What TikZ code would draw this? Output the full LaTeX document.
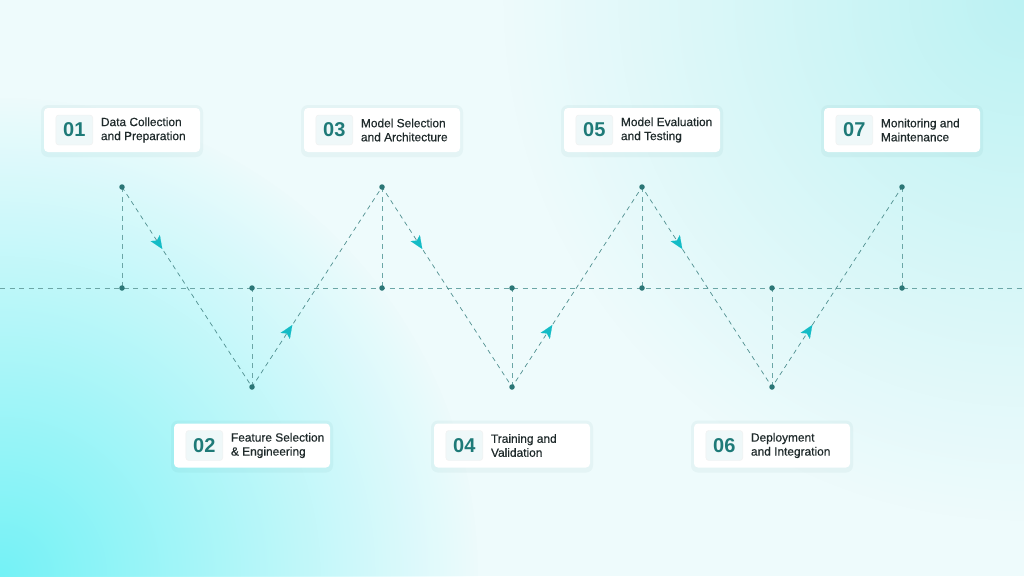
\documentclass[tikz,border=0pt]{standalone}
\usepackage{fontspec}
\setmainfont{Liberation Sans}
\usetikzlibrary{arrows.meta,calc,fadings}
\definecolor{bgc}{HTML}{EEFBFC}
\definecolor{cyanA}{HTML}{74F2F6}
\definecolor{cyanB}{HTML}{BCF2F3}
\definecolor{dashc}{HTML}{6BA6A6}
\definecolor{zigc}{HTML}{4F8F8F}
\definecolor{dotc}{HTML}{2B7676}
\definecolor{numc}{HTML}{1E7A78}
\definecolor{txtc}{HTML}{1F2A2B}
\definecolor{badgec}{HTML}{EFF8F9}
\definecolor{arrc}{HTML}{14BCC6}
\tikzfading[name=radfade, inner color=transparent!0, outer color=transparent!100]
\tikzset{
  card/.style={draw=none, fill=white, rounded corners=4pt, minimum width=156pt, minimum height=44pt, inner sep=0pt},
  cardshadow/.style={fill=dotc, opacity=0.05, rounded corners=7pt},
  badge/.style={draw=black!6, line width=0.4pt, fill=badgec, rounded corners=3pt, minimum width=37pt, minimum height=30pt, inner sep=0pt, font=\fontsize{20}{20}\selectfont\bfseries, text=numc},
  lbl/.style={anchor=west, align=left, inner sep=0pt, font=\fontsize{11.9}{14}\selectfont\addfontfeature{FakeBold=0.5}, text=txtc},
  baseline/.style={draw=dashc, line width=1pt, dash pattern=on 5pt off 4.5pt},
  zig/.style={draw=zigc, line width=0.7pt, dash pattern=on 4.5pt off 4pt},
  dotp/.style={circle, fill=dotc, minimum size=5.5pt, inner sep=0pt},
  arr/.style={arrc, line width=0.1pt, -{Stealth[length=13pt,width=11pt,inset=3pt]}}
}
\newcommand\stepcard[5]{% name, x, y, number, text
  \fill[cardshadow] (#2-81,#3-25) rectangle (#2+81,#3+27);
  \node[card] (#1) at (#2,#3) {};
  \node[badge] (#1n) at ($(#1.west)+(30.5pt,0)$) {#4};
  \node[lbl] (#1t) at ($(#1.west)+(57pt,0)$) {#5};
}
\begin{document}
\begin{tikzpicture}[x=1pt,y=-1pt]
\useasboundingbox (0,0) rectangle (1024,576);
\begin{scope}
\clip (0,0) rectangle (1024,576);
\fill[bgc] (0,0) rectangle (1024,576);
\fill[cyanA, path fading=radfade] (0,576) circle (480);
\fill[cyanB, path fading=radfade] (1024,0) circle (520);
\end{scope}
% points
\foreach \i/\x in {1/122,3/382,5/642,7/902}{
  \coordinate (t\i) at (\x,187);
  \coordinate (m\i) at (\x,288);
}
\foreach \i/\x in {2/252,4/512,6/772}{
  \coordinate (t\i) at (\x,387);
  \coordinate (m\i) at (\x,288);
}
\coordinate (L) at (0,288);
\coordinate (R) at (1024,288);
\draw[baseline] (L) -- (R);
\foreach \i in {1,...,7}{ \draw[baseline] (t\i) -- (m\i); }
\draw[zig] (t1) -- (t2) -- (t3) -- (t4) -- (t5) -- (t6) -- (t7);
\foreach \a/\b in {t1/t2,t2/t3,t3/t4,t4/t5,t5/t6,t6/t7}{
  \draw[arr] ($(\a)!0.30!(\b)$) -- ($(\a)!0.31!(\b)$);
}
\foreach \i in {1,...,7}{
  \node[dotp] (dt\i) at (t\i) {};
  \node[dotp] (dm\i) at (m\i) {};
}
% cards
\stepcard{c1}{122}{130}{01}{Data Collection\\and Preparation}
\stepcard{c3}{382}{130}{03}{Model Selection\\and Architecture}
\stepcard{c5}{642}{130}{05}{Model Evaluation\\and Testing}
\stepcard{c7}{902}{130}{07}{Monitoring and\\Maintenance}
\stepcard{c2}{252}{445.5}{02}{Feature Selection\\\& Engineering}
\stepcard{c4}{512}{445.5}{04}{Training and\\Validation}
\stepcard{c6}{772}{445.5}{06}{Deployment\\and Integration}
\end{tikzpicture}
\end{document}
